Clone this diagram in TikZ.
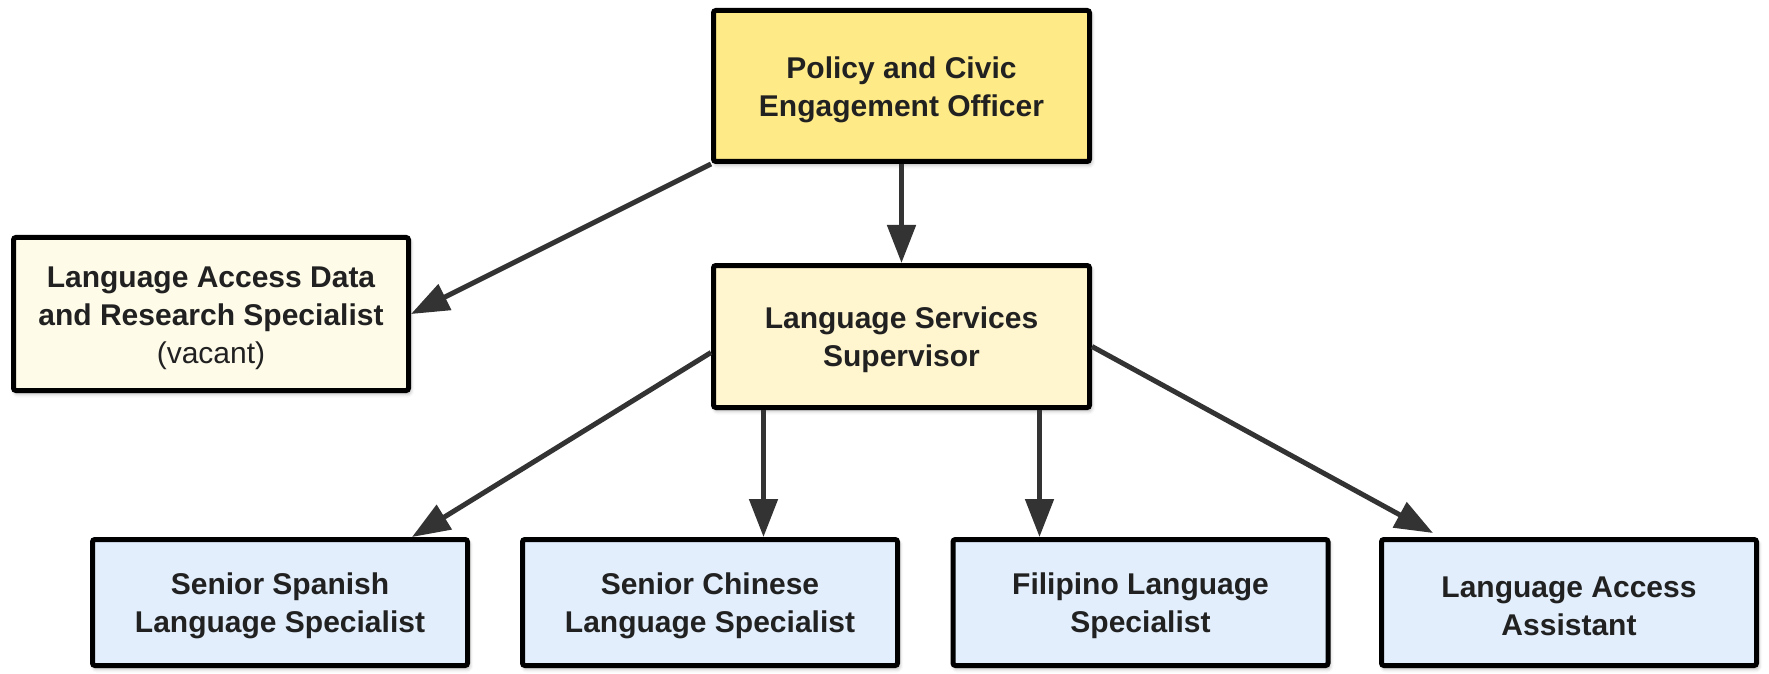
\documentclass[tikz,border=0pt]{standalone}
\usepackage{fontspec}
\setmainfont{Liberation Sans}
\usetikzlibrary{arrows.meta,shadows.blur,calc}
\definecolor{topfill}{RGB}{255,234,136}
\definecolor{supfill}{RGB}{255,245,207}
\definecolor{datafill}{RGB}{254,251,233}
\definecolor{bluefill}{RGB}{226,238,252}
\definecolor{txt}{RGB}{33,33,33}
\definecolor{arr}{RGB}{51,51,51}
\newcommand{\tstrut}{\rule{0pt}{14.5pt}}
\tikzset{
  box/.style={draw=black, line width=2.5pt, rounded corners=1.2pt, align=center,
    text=txt, font=\fontsize{15}{19}\selectfont\bfseries, inner sep=0pt,
    blur shadow={shadow xshift=0.8pt, shadow yshift=-1.5pt, shadow blur radius=2pt, shadow opacity=35}},
  conn/.style={draw=arr, line width=2.5pt, -{Triangle[length=19pt,width=14pt]}}
}
\begin{document}
\begin{tikzpicture}[x=0.5pt,y=-0.5pt]
\useasboundingbox (0,0) rectangle (1769,674);
\node[box, fill=topfill, minimum width=188pt, minimum height=75.5pt] (top) at (901.5,86) {\tstrut Policy and Civic\\Engagement Officer};
\node[box, fill=datafill, minimum width=197.5pt, minimum height=76.5pt] (data) at (211,314) {\tstrut Language Access Data\\and Research Specialist\\{\mdseries (vacant)}};
\node[box, fill=supfill, minimum width=188pt, minimum height=71pt] (sup) at (901.5,336.5) {\tstrut Language Services\\Supervisor};
\node[box, fill=bluefill, minimum width=187.5pt, minimum height=63pt] (span) at (280,602.5) {\tstrut Senior Spanish\\Language Specialist};
\node[box, fill=bluefill, minimum width=187.5pt, minimum height=63pt] (chin) at (710,602.5) {\tstrut Senior Chinese\\Language Specialist};
\node[box, fill=bluefill, minimum width=187.5pt, minimum height=63pt] (fil) at (1140.5,602.5) {\tstrut Filipino Language\\Specialist};
\node[box, fill=bluefill, minimum width=187.5pt, minimum height=63pt] (asst) at (1569,602.5) {\tstrut Language Access\\Assistant};
\draw[conn] (top.south west) -- (data.east);
\draw[conn] (top.south) -- (sup.north);
\draw[conn] ([yshift=-8pt]sup.west) -- ([xshift=66pt]span.north);
\draw[conn] ([xshift=-69pt]sup.south) -- ([xshift=-69pt]sup.south |- chin.north);
\draw[conn] ([xshift=69pt]sup.south) -- ([xshift=69pt]sup.south |- fil.north);
\draw[conn] ([yshift=-5pt]sup.east) -- ([xshift=-68pt,yshift=2pt]asst.north);
\end{tikzpicture}
\end{document}
